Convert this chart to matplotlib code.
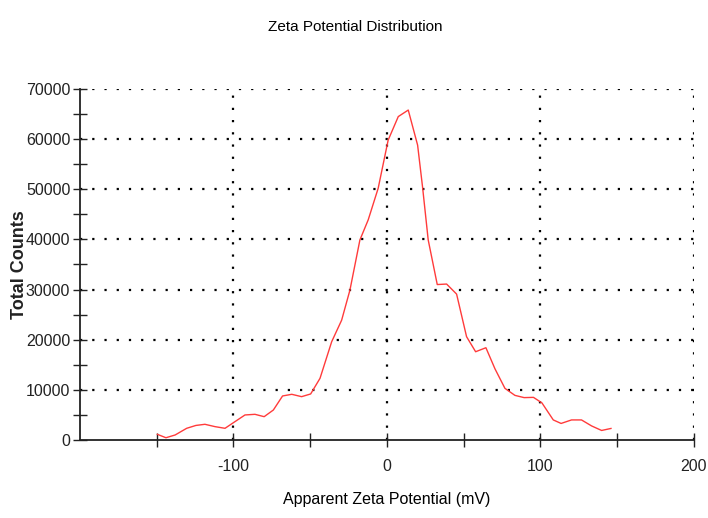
import matplotlib
matplotlib.use('Agg')
import matplotlib.pyplot as plt
from matplotlib.ticker import MultipleLocator

# Zeta potential distribution
zeta_mv = [-149.6, -144.0, -138.0, -130.5, -124.5, -118.6, -112.0, -105.5, -100.0,
           -92.5, -86.0, -80.0, -74.0, -68.0, -62.0, -55.6, -49.7, -43.6, -36.0,
           -29.5, -24.1, -17.6, -12.2, -5.7, 0.8, 7.4, 13.9, 20.0, 23.2, 26.9,
           32.8, 38.9, 45.4, 51.9, 57.8, 64.5, 70.4, 76.9, 83.4, 89.4, 95.5,
           101.0, 108.4, 113.5, 120.3, 126.8, 133.4, 139.9, 146.0]
total_counts = [1130, 450, 1000, 2330, 2900, 3130, 2660, 2330, 3460,
                4990, 5120, 4650, 5980, 8780, 9110, 8640, 9180, 12300, 19600,
                23900, 29900, 39900, 43900, 50200, 59800, 64500, 65800, 58800, 50500, 39900,
                31000, 31100, 29100, 20600, 17600, 18400, 14200, 10300, 8900, 8450, 8500,
                7400, 4000, 3300, 4000, 4000, 2800, 1900, 2300]

plt.rcParams['font.family'] = ['Liberation Sans', 'DejaVu Sans']
plt.rcParams['axes.unicode_minus'] = False

fig = plt.figure(figsize=(7.08, 5.18), dpi=100)
ax = fig.add_axes([0.113, 0.1506, 0.867, 0.6776])

ax.plot(zeta_mv, total_counts, color='#ff3b3b', linewidth=1.0)

ax.set_xlim(-200, 200)
ax.set_ylim(0, 70000)
ax.yaxis.set_major_locator(MultipleLocator(10000))
ax.yaxis.set_minor_locator(MultipleLocator(5000))
ax.set_xticks([-100, 0, 100, 200])
ax.set_xticks([-150, -50, 50, 150], minor=True)

# dotted grid, not drawn over the spines
for gx in [-100, 0, 100, 200]:
    ax.plot([gx, gx], [0, 70000], color='black', linestyle=(0, (1, 4.5)), linewidth=1.6, zorder=0)
for gy in range(10000, 70001, 10000):
    ax.plot([-200, 200], [gy, gy], color='black', linestyle=(0, (1, 4.5)), linewidth=1.6, zorder=0)

for s in ['top', 'right']:
    ax.spines[s].set_visible(False)
for s in ['left', 'bottom']:
    ax.spines[s].set_linewidth(1.3)
    ax.spines[s].set_color('#222222')

ax.tick_params(axis='both', which='major', direction='inout', length=10, width=1.0,
               labelsize=11.5, colors='#222222')
ax.tick_params(axis='both', which='minor', direction='inout', length=10, width=1.0, colors='#222222')
ax.tick_params(axis='x', which='major', pad=9)
ax.tick_params(axis='y', which='major', pad=2)

ax.set_xlabel('Apparent Zeta Potential (mV)', fontsize=11.5, labelpad=13)
ax.set_ylabel('Total Counts', fontsize=13, fontweight='bold', color='#222222')
ax.yaxis.set_label_coords(-0.085, 0.5)
fig.text(0.502, 0.948, 'Zeta Potential Distribution', ha='center', va='center', fontsize=11)

fig.savefig('out.png', dpi=100)
